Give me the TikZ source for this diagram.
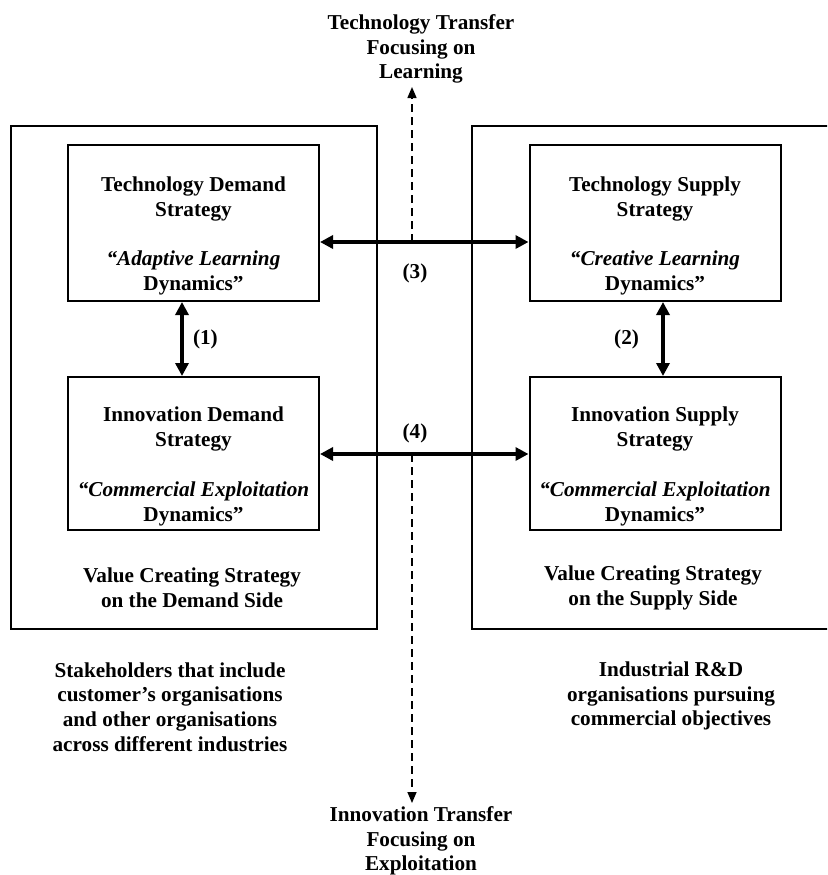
\documentclass[tikz,border=0pt]{standalone}
\usepackage{fontspec}
\setmainfont{Liberation Serif}
\usetikzlibrary{arrows.meta,positioning}

\begin{document}
\begin{tikzpicture}[x=0.5pt,y=-0.5pt,
    every node/.style={font=\fontsize{10.6}{12.4}\selectfont\bfseries, align=center},
    side/.style={draw, line width=1pt, minimum height=251.5pt},
    box/.style={draw, line width=1pt, minimum width=125.5pt},
    tag/.style={inner sep=1.5pt},
    link/.style={line width=2pt, {Triangle[length=6.5pt,width=6.5pt]}-{Triangle[length=6.5pt,width=6.5pt]}},
    flow/.style={line width=0.75pt, dash pattern=on 4pt off 2.5pt, -{Triangle[length=5.5pt,width=4.5pt]}}]

                \useasboundingbox (0,0) rectangle (827,875);
                \clip (0,0) rectangle (827,875);

                % the two sides
                \node[side, minimum width=183pt]               (demand) at (194,377.5) {};
                \node[side, minimum width=214pt]               (supply) at (686,377.5) {};

                % strategies on each side
                \node[box, minimum height=78pt]                (tds) at (193.5,223) {};
                \node[box, minimum height=76.5pt]              (ids) at (193.5,453.5) {};
                \node[box, minimum height=78pt]                (tss) at (655,223) {};
                \node[box, minimum height=76.5pt]              (iss) at (655,453.5) {};

                \node[yshift=-6.5pt] (tdsText) at (tds.center) {Technology Demand\\Strategy\\[12.4pt]\itshape “Adaptive Learning\\Dynamics”};
                \node[yshift=-6.5pt] (idsText) at (ids.center) {Innovation Demand\\Strategy\\[12.4pt]\itshape “Commercial Exploitation\\Dynamics”};
                \node[yshift=-6.5pt] (tssText) at (tss.center) {Technology Supply\\Strategy\\[12.4pt]\itshape “Creative Learning\\Dynamics”};
                \node[yshift=-6.5pt] (issText) at (iss.center) {Innovation Supply\\Strategy\\[12.4pt]\itshape “Commercial Exploitation\\Dynamics”};

                \node (vcd) at (192,588) {Value Creating Strategy\\on the Demand Side};
                \node (vcs) at (653,588) {Value Creating Strategy\\on the Supply Side};

                \node (stake) at (170,707) {Stakeholders that include\\customer’s organisations\\and other organisations\\across different industries};
                \node (rnd) at (671,696) {Industrial R\&D\\organisations pursuing\\commercial objectives};

                % transfers
                \node[tag, anchor=south] (ttf) at (421,87) {Technology Transfer\\Focusing on\\Learning};
                \node[tag, anchor=north] (itf) at (421,803) {Innovation Transfer\\Focusing on\\Exploitation};

                \coordinate (a1) at (182,339);
                \coordinate (a2) at (663,339);
                \coordinate (a3) at (412,242);
                \coordinate (a4) at (412,454);

                \node[right=2pt of a1]  (n1) {(1)};
                \node[left=8.5pt of a2] (n2) {(2)};
                \node (n3) at (415,273) {(3)};
                \node (n4) at (415,433) {(4)};

                \draw[flow] (a3) -- (ttf.south -| a3);
                \draw[flow] (a4) -- (itf.north -| a4);

                \draw[link] (tds.south -| a1) -- (ids.north -| a1);
                \draw[link] (tss.south -| a2) -- (iss.north -| a2);
                \draw[link] (tds.east |- a3) -- (tss.west |- a3);
                \draw[link] (ids.east |- a4) -- (iss.west |- a4);
            \end{tikzpicture}
\end{document}
